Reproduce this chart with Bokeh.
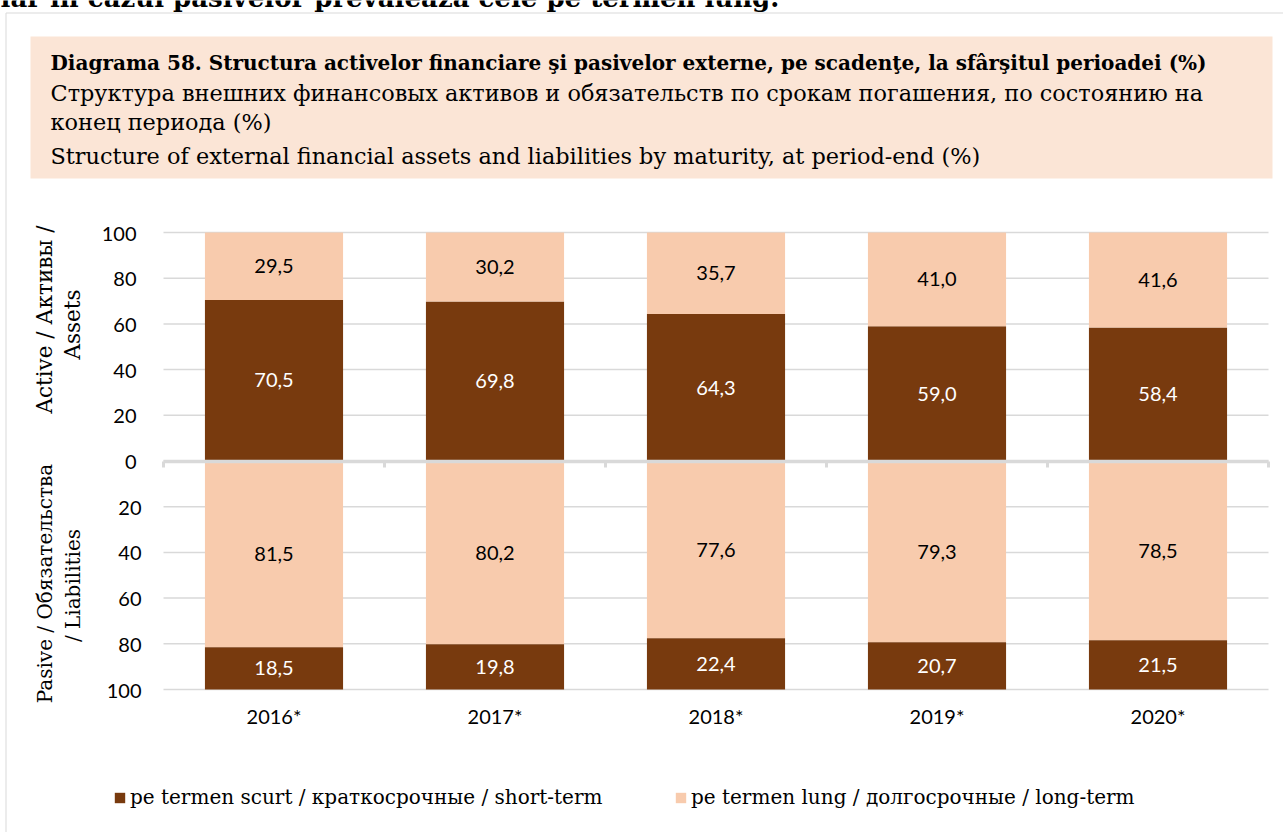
from bokeh.plotting import figure
from bokeh.models import (Range1d, FixedTicker, LinearAxis, Label, BoxAnnotation,
                          Legend, LegendItem, ColumnDataSource)
from bokeh.core.properties import value
from bokeh.embed import file_html
from bokeh.resources import INLINE
import math

# ---------------- data ----------------
years = ["2016*", "2017*", "2018*", "2019*", "2020*"]
assets_short = [70.5, 69.8, 64.3, 59.0, 58.4]
assets_long = [29.5, 30.2, 35.7, 41.0, 41.6]
liab_long = [81.5, 80.2, 77.6, 79.3, 78.5]
liab_short = [18.5, 19.8, 22.4, 20.7, 21.5]
y_ticks = [-100, -80, -60, -40, -20, 0, 20, 40, 60, 80, 100]
y_tick_labels = ["100", "80", "60", "40", "20", "0", "20", "40", "60", "80", "100"]

top_text = "iar în cazul pasivelor prevalează cele pe termen lung."
title_lines = [
    "Diagrama 58. Structura activelor financiare şi pasivelor externe, pe scadenţe, la sfârşitul perioadei (%)",
    "Структура внешних финансовых активов и обязательств по срокам погашения, по состоянию на",
    "конец периода (%)",
    "Structure of external financial assets and liabilities by maturity, at period-end (%)",
]
assets_title = ["Active / Активы /", "Assets"]
liab_title = ["Pasive / Обязательства", "/ Liabilities"]
legend_labels = ["pe termen scurt / краткосрочные / short-term",
                 "pe termen lung / долгосрочные / long-term"]

# ---------------- style ----------------
SHORT = "#783A0E"
LONG = "#F8CBAD"
BOX = "#FBE5D6"
GRID = "#D9D9D9"
SERIF = "DejaVu Serif"
SANS = "Lato"

OX, OY = 0, 0            # page position of the canvas
W, H = 1283, 832
FL, FR, FT, FB = 163, 1268, 232, 689   # plot area in page pixels
n = len(years)
XS = (FR - FL) / n
YS = (FB - FT) / 200.0


def dx(px):
    return (px - FL) / XS


def dy(py):
    return 100 - (py - FT) / YS


p = figure(width=W, height=H,
           x_range=Range1d(dx(OX), dx(OX + W)), y_range=Range1d(dy(OY + H), dy(OY)),
           output_backend="svg", toolbar_location=None, x_axis_type=None, y_axis_type=None,
           min_border=0, min_border_left=0, min_border_right=0, min_border_top=0,
           min_border_bottom=0, background_fill_color="white",
           border_fill_color="white", outline_line_color=None)

# frame of the page and the title box
p.segment(x0=[dx(5.5), dx(5.5)], y0=[dy(12.5), dy(12.5)],
          x1=[dx(5.5), dx(W + 10)], y1=[dy(H + 10), dy(12.5)],
          line_color=GRID, line_width=1)
p.add_layout(BoxAnnotation(left=dx(30), right=dx(1272), top=dy(36), bottom=dy(178),
                           fill_color=BOX, fill_alpha=1, line_color=None, level="underlay"))

# ---------------- grid lines (plot area only) + bars ----------------
p.segment(x0=[0] * len(y_ticks), x1=[n] * len(y_ticks), y0=y_ticks, y1=y_ticks,
          line_color=GRID, line_width=1.5)

xs = [i + 0.5 for i in range(n)]
src = ColumnDataSource(dict(x=xs, a_short=assets_short, a_long=assets_long,
                            l_long=[-v for v in liab_long], l_short=[-v for v in liab_short]))
ra = p.vbar_stack(["a_short", "a_long"], x="x", width=0.625, fill_color=[SHORT, LONG],
                  line_color=None, source=src)
rl = p.vbar_stack(["l_long", "l_short"], x="x", width=0.625, fill_color=[LONG, SHORT],
                  line_color=None, source=src)

# data labels
lx, ly, lt, lc = [], [], [], []
fmt = lambda v: ("%.1f" % v).replace(".", ",")
for i in range(n):
    lx += [xs[i]] * 4
    ly += [assets_short[i] / 2, assets_short[i] + assets_long[i] / 2,
           -liab_long[i] / 2, -liab_long[i] - liab_short[i] / 2]
    lt += [fmt(assets_short[i]), fmt(assets_long[i]), fmt(liab_long[i]), fmt(liab_short[i])]
    lc += ["white", "black", "black", "white"]
p.text(x="x", y="y", text="t", text_color="c",
       source=ColumnDataSource(dict(x=lx, y=ly, t=lt, c=lc)),
       text_font=value(SANS), text_font_size="20px", text_align="center",
       text_baseline="middle")

# ---------------- axes ----------------
yt = FixedTicker(ticks=y_ticks)
ya = LinearAxis(fixed_location=0, ticker=yt,
                major_label_overrides={t: (lab + "\u2005" if t >= 0 else lab)
                                       for t, lab in zip(y_ticks, y_tick_labels)},
                axis_line_color=None, major_tick_line_color=None, minor_tick_line_color=None,
                major_label_standoff=16, major_label_text_font=SANS,
                major_label_text_font_size="20px", major_label_text_color="black")
p.add_layout(ya, "left")

xa = LinearAxis(fixed_location=-100, ticker=FixedTicker(ticks=xs),
                major_label_overrides={x: y for x, y in zip(xs, years)},
                axis_line_color=None, major_tick_line_color=None, minor_tick_line_color=None,
                major_label_standoff=8, major_label_text_font=SANS,
                major_label_text_font_size="20px", major_label_text_color="black")
p.add_layout(xa, "below")

za = LinearAxis(fixed_location=0, bounds=(0, n), ticker=FixedTicker(ticks=list(range(n + 1))),
                major_label_overrides={i: "" for i in range(n + 1)},
                axis_line_color=GRID, axis_line_width=3.5,
                major_tick_line_color=GRID, major_tick_line_width=3,
                major_tick_in=0, major_tick_out=6, minor_tick_line_color=None)
p.add_layout(za, "below")

# ---------------- texts ----------------
p.add_layout(Label(x=dx(0), y=dy(-3), text=top_text, text_font=SERIF, text_font_style="bold",
                   text_font_size="26px", text_color="black", text_baseline="alphabetic"))
title_y = [62, 92, 121, 155]
for k, (t, yy) in enumerate(zip(title_lines, title_y)):
    p.add_layout(Label(x=dx(50), y=dy(yy), text=t, text_font=SERIF,
                       text_font_style="bold" if k == 0 else "normal",
                       text_font_size="20px" if k == 0 else "22.4px",
                       text_color="black", text_baseline="middle"))

for t, (cx, cy) in zip(assets_title, [(44, 319), (72, 324)]):
    p.add_layout(Label(x=dx(cx), y=dy(cy), text=t, angle=math.pi / 2, text_font=SERIF,
                       text_font_size="21.5px", text_color="black", text_align="center",
                       text_baseline="middle"))
for t, (cx, cy) in zip(liab_title, [(44, 583), (72, 585)]):
    p.add_layout(Label(x=dx(cx), y=dy(cy), text=t, angle=math.pi / 2, text_font=SERIF,
                       text_font_size="20px", text_color="black", text_align="center",
                       text_baseline="middle"))

# ---------------- legends ----------------
for lab, rend, lx0 in [(legend_labels[0], ra[0], 113), (legend_labels[1], ra[1], 674)]:
    lg = Legend(items=[LegendItem(label=lab, renderers=[rend])],
                location=(lx0 - OX, (OY + H) - 809), orientation="horizontal",
                glyph_width=13, glyph_height=13, label_standoff=4, padding=0, margin=0,
                border_line_color=None, background_fill_alpha=0,
                label_text_font=SERIF, label_text_font_size="20px",
                label_text_color="black")
    p.add_layout(lg)

open("out.html", "w").write(file_html(p, INLINE))
